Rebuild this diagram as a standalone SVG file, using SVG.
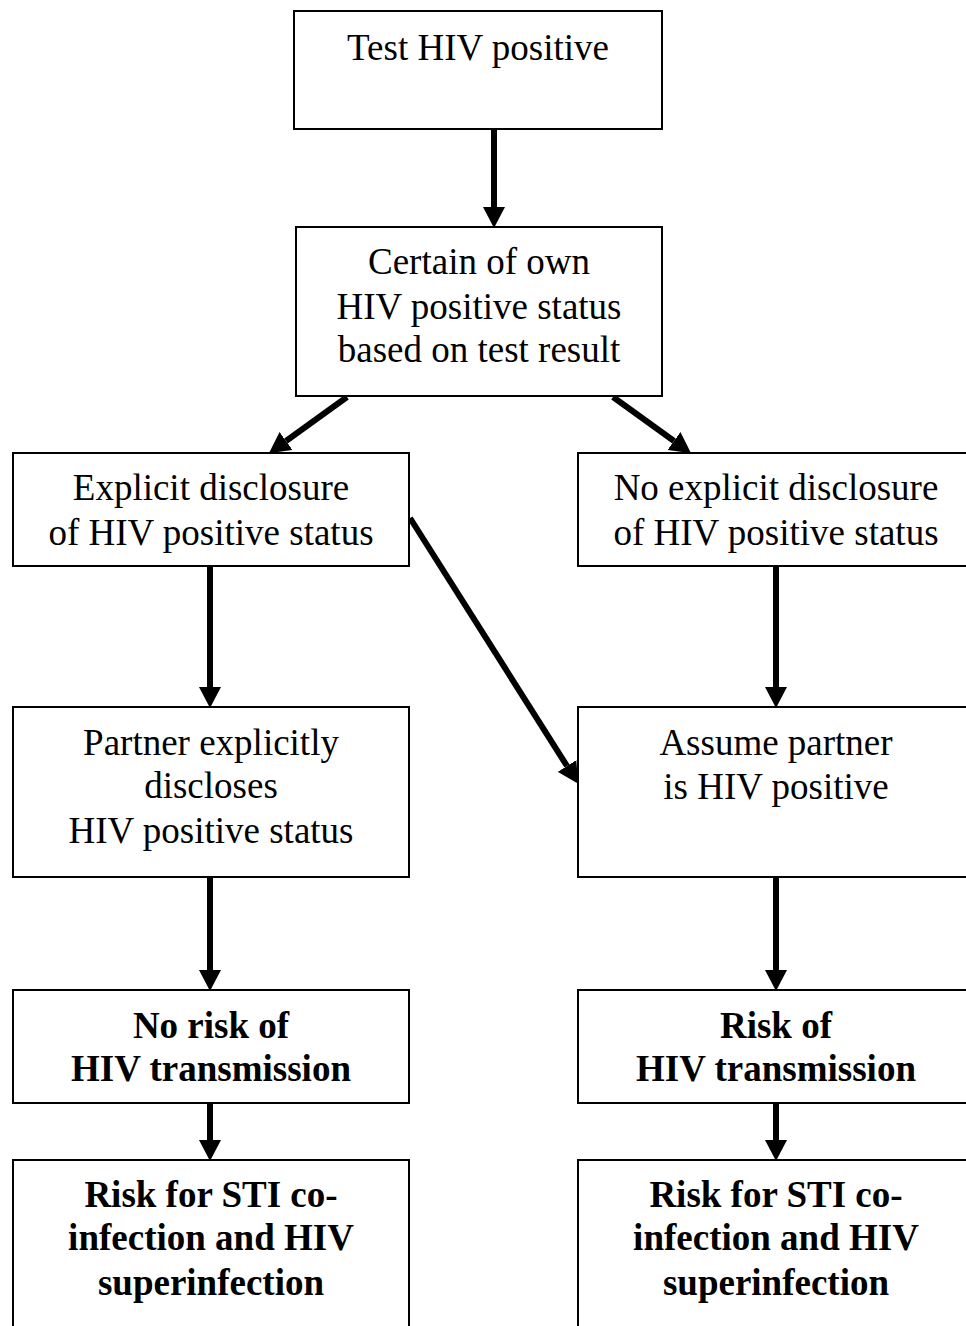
<svg xmlns="http://www.w3.org/2000/svg" width="966" height="1326" viewBox="0 0 966 1326">
<defs>
<style>
.box{fill:#fff;stroke:#000;stroke-width:2}
.t{font-family:"Liberation Serif","Times New Roman",serif;font-size:37px;text-anchor:middle;fill:#000}
.b{font-weight:bold}
.c{stroke:#000;stroke-width:6;fill:none;marker-end:url(#ah)}
</style>
<marker id="ah" markerUnits="userSpaceOnUse" markerWidth="22" markerHeight="22" refX="0" refY="11" orient="auto">
<path d="M0,0 L21,11 L0,22 z" fill="#000"/>
</marker>
</defs>
<rect width="966" height="1326" fill="#fff"/>
<g id="connectors">
<line class="c" x1="494" y1="129" x2="494" y2="207"/>
<line class="c" x1="347" y1="397" x2="286" y2="441"/>
<line class="c" x1="613" y1="397" x2="674" y2="441"/>
<line class="c" x1="210" y1="566" x2="210" y2="687"/>
<line class="c" x1="776" y1="566" x2="776" y2="687"/>
<line class="c" x1="410" y1="518" x2="567" y2="766"/>
<line class="c" x1="210" y1="877" x2="210" y2="970"/>
<line class="c" x1="776" y1="877" x2="776" y2="970"/>
<line class="c" x1="210" y1="1103" x2="210" y2="1140"/>
<line class="c" x1="776" y1="1103" x2="776" y2="1140"/>
</g>
<g id="n1"><rect class="box" x="294" y="11" width="368" height="118"/>
<text class="t" x="478" y="60">Test HIV positive</text></g>
<g id="n2"><rect class="box" x="296" y="227" width="366" height="169"/>
<text class="t" x="479" y="274">Certain of own</text>
<text class="t" x="479" y="319">HIV positive status</text>
<text class="t" x="479" y="362">based on test result</text></g>
<g id="n3"><rect class="box" x="13" y="453" width="396" height="113"/>
<text class="t" x="211" y="500">Explicit disclosure</text>
<text class="t" x="211" y="545">of HIV positive status</text></g>
<g id="n4"><rect class="box" x="578" y="453" width="396" height="113"/>
<text class="t" x="776" y="500">No explicit disclosure</text>
<text class="t" x="776" y="545">of HIV positive status</text></g>
<g id="n5"><rect class="box" x="13" y="707" width="396" height="170"/>
<text class="t" x="211" y="755">Partner explicitly</text>
<text class="t" x="211" y="798">discloses</text>
<text class="t" x="211" y="843">HIV positive status</text></g>
<g id="n6"><rect class="box" x="578" y="707" width="396" height="170"/>
<text class="t" x="776" y="755">Assume partner</text>
<text class="t" x="776" y="799">is HIV positive</text></g>
<g id="n7"><rect class="box" x="13" y="990" width="396" height="113"/>
<text class="t b" x="211" y="1038">No risk of</text>
<text class="t b" x="211" y="1081">HIV transmission</text></g>
<g id="n8"><rect class="box" x="578" y="990" width="396" height="113"/>
<text class="t b" x="776" y="1038">Risk of</text>
<text class="t b" x="776" y="1081">HIV transmission</text></g>
<g id="n9"><rect class="box" x="13" y="1160" width="396" height="180"/>
<text class="t b" x="211" y="1207">Risk for STI co-</text>
<text class="t b" x="211" y="1250">infection and HIV</text>
<text class="t b" x="211" y="1295">superinfection</text></g>
<g id="n10"><rect class="box" x="578" y="1160" width="396" height="180"/>
<text class="t b" x="776" y="1207">Risk for STI co-</text>
<text class="t b" x="776" y="1250">infection and HIV</text>
<text class="t b" x="776" y="1295">superinfection</text></g>
</svg>
